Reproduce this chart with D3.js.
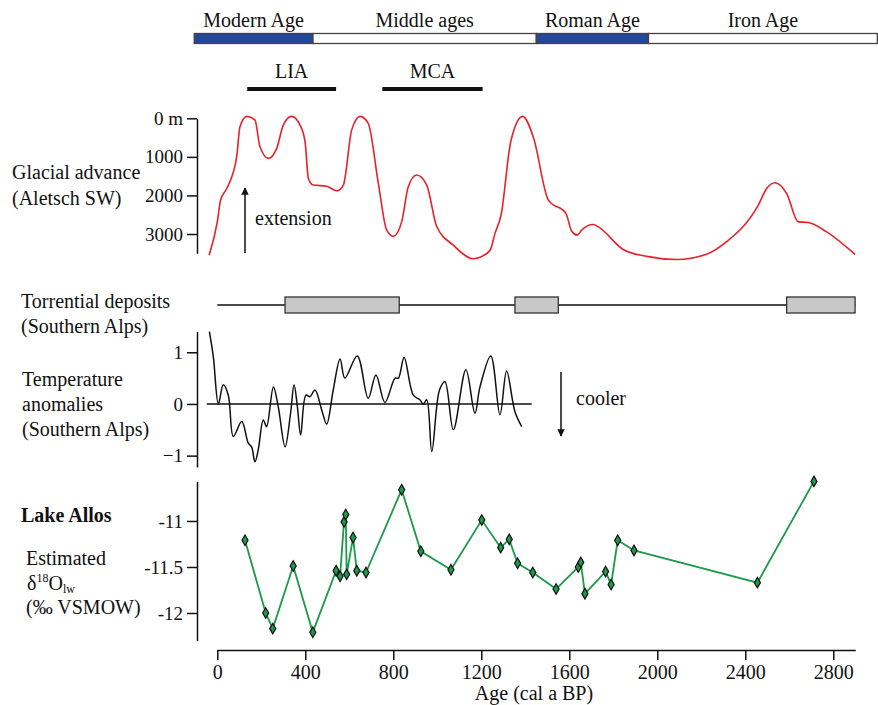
<!DOCTYPE html>
<html>
<head>
<meta charset="utf-8">
<script src="https://cdn.jsdelivr.net/npm/d3@7"></script>
<style>
  body { margin: 0; background: #fff; }
  svg text { font-family: 'Liberation Serif', 'Times New Roman', Times, 'DejaVu Serif', serif; fill: #111; }
</style>
</head>
<body>
<svg id="chart" width="878" height="705"></svg>
<script>
// ---- data (ages in cal a BP) ----
var eraNames = ["Modern Age", "Middle ages", "Roman Age", "Iron Age"];
var eraBounds = [-105, 435, 1450, 1960, 3000];
var eraFill = ["#22489b", "#fff", "#22489b", "#fff"];

var periods = ["LIA", "MCA"];
var periodSpans = [[136, 540], [750, 1206]];

// glacier front position (m, 0 = max extension)
var glacierAge = [-37, 0, 15, 43, 88, 103, 134, 171, 194, 232, 270, 300, 338, 376, 399, 414, 436, 497, 543, 573,
  611, 649, 686, 732, 770, 800, 838, 868, 906, 952, 997, 1073, 1164, 1194, 1240, 1262, 1290, 1334, 1388, 1436,
  1505, 1585, 1611, 1636, 1656, 1709, 1732, 1845, 1952, 2088, 2224, 2315, 2459, 2497, 2535, 2588, 2641, 2686, 2770, 2899];
var glacierPos = [3550, 2685, 2120, 1820, 1000, 220, -50, 40, 740, 1040, 780, 175, -50, 175, 610, 1560, 1730, 1760, 1880, 1730,
  300, -50, 130, 1690, 2900, 3060, 2685, 1775, 1470, 1730, 2800, 3290, 3640, 3600, 3420, 2990, 2500, 600, -50, 478,
  2120, 2470, 2930, 3030, 2900, 2755, 2815, 3400, 3580, 3660, 3525, 3200, 2250, 1820, 1670, 1950, 2685, 2700, 2945, 3530];
var glacierTicks = [0, 1000, 2000, 3000];

// torrential deposit phases
var torrentSpans = [[308, 827], [1353, 1550], [2588, 2899]];

// temperature anomalies
var tempAge = [-36, -18, 5, 27, 50, 73, 111, 141, 156, 171, 186, 209, 224, 255, 277, 308, 333, 349, 364, 379,
  403, 421, 444, 475, 497, 527, 558, 580, 636, 686, 721, 762, 808, 823, 849, 891, 921, 936, 952, 975,
  1010, 1035, 1073, 1130, 1171, 1194, 1243, 1285, 1315, 1353, 1384];
var tempVal = [1.40, 0.91, 0.0, 0.37, 0.17, -0.63, -0.34, -0.76, -0.83, -1.12, -0.89, -0.31, -0.44, 0.33, -0.05, -0.83, -0.18, 0.37, -0.05, -0.6,
  0.17, 0.14, 0.27, -0.12, -0.39, 0.27, 0.87, 0.5, 0.93, 0.11, 0.56, 0.03, 0.5, 0.5, 0.9, 0.17, 0.08, 0.0, 0.08, -0.92,
  0.27, 0.43, -0.5, 0.66, -0.18, 0.33, 0.93, -0.21, 0.64, -0.15, -0.44];
var tempTicks = [-1, 0, 1];

// Lake Allos d18O lake water
var lakeAge = [126, 220, 252, 345, 434, 540, 558, 576, 584, 588, 617, 634, 676, 838, 925, 1062, 1202, 1288, 1327, 1365,
  1434, 1540, 1641, 1652, 1671, 1765, 1790, 1820, 1894, 2455, 2712];
var lakeVal = [-11.21, -12.00, -12.17, -11.49, -12.21, -11.54, -11.60, -11.01, -10.93, -11.58, -11.18, -11.54, -11.56, -10.66, -11.33, -11.53, -10.99, -11.29, -11.20, -11.46,
  -11.56, -11.74, -11.50, -11.45, -11.79, -11.55, -11.69, -11.21, -11.32, -11.67, -10.57];
var lakeTicks = [-11, -11.5, -12];

var ageTicks = [0, 400, 800, 1200, 1600, 2000, 2400, 2800];

var serif = "'Liberation Serif', 'Times New Roman', Times, 'DejaVu Serif', serif";

// ---- scales ----
var svg = d3.select("#chart").attr("font-family", serif);
var x = d3.scaleLinear().domain([0, 2900]).range([217.3, 855.3]);
var yG = d3.scaleLinear().domain([0, 3500]).range([118.3, 253.3]);
var yT = d3.scaleLinear().domain([-1.22, 1.4]).range([467, 331.6]);
var yL = d3.scaleLinear().domain([-12.3, -10.57]).range([640.6, 481.4]);

function label(txt, lx, ly, opts) {
  opts = opts || {};
  return svg.append("text").attr("x", lx).attr("y", ly)
    .attr("font-family", serif)
    .attr("font-size", opts.size || 20)
    .attr("font-weight", opts.bold ? "bold" : null)
    .attr("text-anchor", opts.anchor || "start")
    .text(txt);
}

function styleAxis(g, size) {
  g.attr("font-family", serif);
  g.selectAll("path,line").attr("stroke", "#111").attr("stroke-width", 1.5);
  g.selectAll("text").attr("font-family", serif).attr("font-size", size).attr("fill", "#111");
}

function leftAxis(scale, major, minor, fmt) {
  var g = svg.append("g").attr("transform", "translate(197,0)");
  g.call(d3.axisLeft(scale).tickValues(minor).tickSize(5).tickFormat("").tickSizeOuter(0));
  g.call(d3.axisLeft(scale).tickValues(major).tickSize(10).tickPadding(4).tickSizeOuter(0).tickFormat(fmt));
  styleAxis(g, 19);
  return g;
}

// ---- top era bar ----
var era = svg.append("g");
era.selectAll("rect").data(eraNames).enter().append("rect")
  .attr("x", function(d, i) { return x(eraBounds[i]); })
  .attr("width", function(d, i) { return x(eraBounds[i + 1]) - x(eraBounds[i]); })
  .attr("y", 33.5).attr("height", 10)
  .attr("fill", function(d, i) { return eraFill[i]; })
  .attr("stroke", "#444").attr("stroke-width", 1.3);
era.selectAll("text").data(eraNames).enter().append("text")
  .attr("x", function(d, i) { return (x(eraBounds[i]) + x(eraBounds[i + 1])) / 2; })
  .attr("y", 27).attr("text-anchor", "middle").attr("font-size", 20).attr("font-family", serif)
  .text(function(d) { return d; });

// LIA / MCA
periods.forEach(function(p, i) {
  var s = periodSpans[i];
  svg.append("line").attr("x1", x(s[0])).attr("x2", x(s[1])).attr("y1", 89).attr("y2", 89)
    .attr("stroke", "#111").attr("stroke-width", 4);
  label(p, (x(s[0]) + x(s[1])) / 2, 78, { anchor: "middle" });
});

// ---- glacier ----
leftAxis(yG, glacierTicks, d3.range(0, 3501, 500), function(d) { return d === 0 ? "0 m" : d; });
svg.append("path")
  .datum(glacierAge.map(function(a, i) { return [a, glacierPos[i]]; }))
  .attr("fill", "none").attr("stroke", "#e8212b").attr("stroke-width", 1.6)
  .attr("d", d3.line().curve(d3.curveMonotoneX)
    .x(function(d) { return x(d[0]); }).y(function(d) { return yG(d[1]); }));
label("Glacial advance", 12, 179);
label("(Aletsch SW)", 12, 205);

// arrows
var defs = svg.append("defs");
defs.append("marker").attr("id", "head").attr("viewBox", "0 0 10 10")
  .attr("refX", 9).attr("refY", 5).attr("markerWidth", 5).attr("markerHeight", 5)
  .attr("orient", "auto-start-reverse")
  .append("path").attr("d", "M0,0L10,5L0,10z").attr("fill", "#111");

svg.append("line").attr("x1", 245).attr("x2", 245).attr("y1", 253).attr("y2", 188)
  .attr("stroke", "#111").attr("stroke-width", 1.5).attr("marker-end", "url(#head)");
label("extension", 255, 225);

// ---- torrential deposits ----
svg.append("line").attr("x1", x(0)).attr("x2", x(2900)).attr("y1", 305).attr("y2", 305)
  .attr("stroke", "#111").attr("stroke-width", 1.3);
svg.selectAll(".torrent").data(torrentSpans).enter().append("rect")
  .attr("class", "torrent")
  .attr("x", function(d) { return x(d[0]); })
  .attr("width", function(d) { return x(d[1]) - x(d[0]); })
  .attr("y", 297).attr("height", 16)
  .attr("fill", "#c8c8c8").attr("stroke", "#333").attr("stroke-width", 1.3);
label("Torrential deposits", 21, 308);
label("(Southern Alps)", 21, 333);

// ---- temperature ----
leftAxis(yT, tempTicks, d3.range(-1.2, 1.41, 0.2).map(function(v) { return Math.round(v * 10) / 10; }), d3.format("d"));
svg.append("line").attr("x1", x(-48)).attr("x2", x(1429)).attr("y1", yT(0)).attr("y2", yT(0))
  .attr("stroke", "#111").attr("stroke-width", 1.4);
svg.append("path")
  .datum(tempAge.map(function(a, i) { return [a, tempVal[i]]; }))
  .attr("fill", "none").attr("stroke", "#111").attr("stroke-width", 1.5)
  .attr("d", d3.line().curve(d3.curveCatmullRom.alpha(0.5))
    .x(function(d) { return x(d[0]); }).y(function(d) { return yT(d[1]); }));
label("Temperature", 22, 386);
label("anomalies", 22, 411);
label("(Southern Alps)", 22, 436);

svg.append("line").attr("x1", 561).attr("x2", 561).attr("y1", 372).attr("y2", 436)
  .attr("stroke", "#111").attr("stroke-width", 1.5).attr("marker-end", "url(#head)");
label("cooler", 576, 405);

// ---- Lake Allos ----
leftAxis(yL, lakeTicks, d3.range(-12.3, -10.55, 0.1).map(function(v) { return Math.round(v * 10) / 10; }),
  function(d) { return d; });
var lake = lakeAge.map(function(a, i) { return [a, lakeVal[i]]; });
svg.append("path").datum(lake)
  .attr("fill", "none").attr("stroke", "#1b9a4a").attr("stroke-width", 1.8)
  .attr("d", d3.line().x(function(d) { return x(d[0]); }).y(function(d) { return yL(d[1]); }));
svg.selectAll(".pt").data(lake).enter().append("path")
  .attr("class", "pt")
  .attr("transform", function(d) { return "translate(" + x(d[0]) + "," + yL(d[1]) + ")"; })
  .attr("d", d3.symbol().type(d3.symbolDiamond).size(32))
  .attr("fill", "#1b9a4a").attr("stroke", "#111").attr("stroke-width", 1.2);

label("Lake Allos", 21, 522, { bold: true });
label("Estimated", 26, 565);
var dl = svg.append("text").attr("x", 27).attr("y", 590).attr("font-size", 20).attr("font-family", serif);
dl.append("tspan").text("δ");
dl.append("tspan").attr("dy", -8).attr("font-size", 12).text("18");
dl.append("tspan").attr("dy", 8).text("O");
dl.append("tspan").attr("dy", 3).attr("font-size", 12).text("lw");
label("(‰ VSMOW)", 26, 614);

// ---- age axis ----
var gx = svg.append("g").attr("transform", "translate(0,650)");
gx.call(d3.axisBottom(x).tickValues(d3.range(0, 2901, 100)).tickSize(5).tickFormat("").tickSizeOuter(0));
gx.call(d3.axisBottom(x).tickValues(ageTicks).tickSize(10).tickPadding(5).tickSizeOuter(0).tickFormat(d3.format("d")));
styleAxis(gx, 20);
label("Age (cal a BP)", 534, 700, { anchor: "middle" });
</script>
</body>
</html>
